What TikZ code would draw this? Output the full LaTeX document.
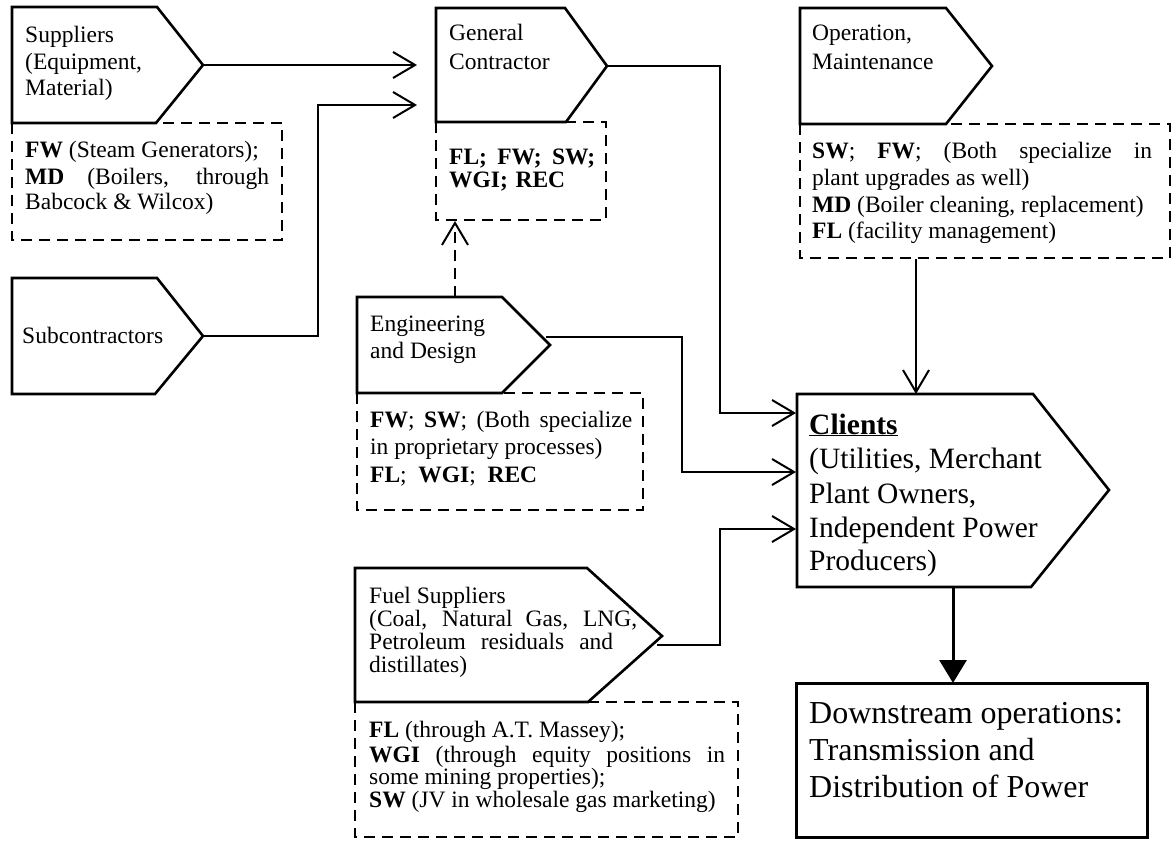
\documentclass[tikz,border=0pt]{standalone}
\usepackage{fontspec}
\setmainfont{Liberation Serif}
\usetikzlibrary{arrows.meta}

\tikzset{
  stage/.style={line width=2.6pt, line join=miter, fill=white},
  notebox/.style={line width=2pt, dash pattern=on 11pt off 7pt},
  conn/.style={line width=2pt, -{Straight Barb[length=22pt,width=26pt]}},
  heavy/.style={line width=3pt},
  txt/.style={anchor=base west, inner sep=0pt, font=\fontsize{23.5}{28}\selectfont},
  bigtxt/.style={txt, font=\fontsize{29.5}{34}\selectfont},
  hugetxt/.style={txt, font=\fontsize{32}{37}\selectfont},
}

\begin{document}
\begin{tikzpicture}[x=1pt,y=-1pt]
\useasboundingbox (0,0) rectangle (1172,843);

% ---- dashed note boxes (company lists) ----
\draw[notebox] (12,123) rectangle (282,240);
\draw[notebox] (436,122) rectangle (606,220);
\draw[notebox] (800,124) rectangle (1170,258);
\draw[notebox] (357,393) rectangle (643,510);
\draw[notebox] (355,702) rectangle (738,837);

% ---- value-chain stages (pentagon arrows) ----
\draw[stage] (12,7) -- (157,7) -- (203,65) -- (156,123) -- (12,123) -- cycle;
\draw[stage] (12,278) -- (157,278) -- (203,336) -- (155,394) -- (12,394) -- cycle;
\draw[stage] (436,8) -- (565,8) -- (607,66) -- (566,122) -- (436,122) -- cycle;
\draw[stage] (800,8) -- (946,8) -- (992,66) -- (946,124) -- (800,124) -- cycle;
\draw[stage] (357,297) -- (502,297) -- (550,345) -- (502,393) -- (357,393) -- cycle;
\draw[stage] (355,568) -- (587,568) -- (662,636) -- (588,702) -- (355,702) -- cycle;
\draw[stage] (797,394) -- (1033,394) -- (1109,490) -- (1031,587) -- (797,587) -- cycle;
\draw[heavy] (796,683) rectangle (1147,837);

% ---- connection points ----
\coordinate (sup-tip) at (203,65);
\coordinate (sub-tip) at (203,336);
\coordinate (gc-tip) at (607,66);
\coordinate (eng-tip) at (546,337);
\coordinate (eng-top) at (455,297);
\coordinate (gc-note) at (455,221);
\coordinate (fuel-tip) at (657,645);
\coordinate (om-note) at (916,259);
\coordinate (cl-top) at (916,394);
\coordinate (cl-bot) at (953,587);
\coordinate (ds-top) at (953,683);
\coordinate (gc-in1) at (417,65);
\coordinate (gc-in2) at (417,105);
\coordinate (sub-bend) at (318,105);
\coordinate (cl-in1) at (796,413);
\coordinate (cl-in2) at (796,472);
\coordinate (cl-in3) at (796,529);
\coordinate (gc-bend) at (720,413);
\coordinate (eng-bend) at (682,472);
\coordinate (fuel-bend) at (720,529);

% ---- connectors ----
\draw[conn] (sup-tip) -- (gc-in1);
\draw[conn] (sub-tip) -| (sub-bend) -- (gc-in2);
\draw[conn] (gc-tip) -| (gc-bend) -- (cl-in1);
\draw[conn] (eng-tip) -| (eng-bend) -- (cl-in2);
\draw[conn] (fuel-tip) -| (fuel-bend) -- (cl-in3);
\draw[conn, dash pattern=on 11pt off 7pt] (eng-top) -- (gc-note);
\draw[conn] (om-note) -- (cl-top);
\draw[heavy, -{Triangle[length=23pt,width=27pt]}] (cl-bot) -- (ds-top);

% ---- Suppliers ----
\node[txt] (sup1) at (25,43) {Suppliers};
\node[txt] (sup2) at (25,70) {(Equipment,};
\node[txt] (sup3) at (25,95) {Material)};
\node[txt] (supn1) at (25,157) {\textbf{FW} (Steam Generators);};
\node[txt] (supn2) at (25,184) {\makebox[244pt][s]{\textbf{MD} (Boilers, through}};
\node[txt] (supn3) at (25,209) {Babcock \& Wilcox)};

% ---- Subcontractors ----
\node[txt] (sub1) at (22,343) {Subcontractors};

% ---- General Contractor ----
\node[txt] (gc1) at (449,41) {General};
\node[txt] (gc2) at (449,70) {Contractor};
\node[txt] (gcn1) at (449,164) {\makebox[146pt][s]{\textbf{FL; FW; SW;}}};
\node[txt] (gcn2) at (449,187) {\makebox[116pt][s]{\textbf{WGI; REC}}};

% ---- Operation, Maintenance ----
\node[txt] (om1) at (812,41) {Operation,};
\node[txt] (om2) at (812,70) {Maintenance};
\node[txt] (omn1) at (812,158) {\makebox[340pt][s]{\textbf{SW}; \textbf{FW}; (Both specialize in}};
\node[txt] (omn2) at (812,185) {plant upgrades as well)};
\node[txt] (omn3) at (812,212) {\textbf{MD} (Boiler cleaning, replacement)};
\node[txt] (omn4) at (812,238) {\textbf{FL} (facility management)};

% ---- Engineering and Design ----
\node[txt] (eng1) at (370,331) {Engineering};
\node[txt] (eng2) at (370,358) {and Design};
\node[txt] (engn1) at (370,427) {\makebox[262pt][s]{\textbf{FW}; \textbf{SW}; (Both specialize}};
\node[txt] (engn2) at (370,454) {in proprietary processes)};
\node[txt] (engn3) at (370,482) {\makebox[167pt][s]{\textbf{FL}; \textbf{WGI}; \textbf{REC}}};

% ---- Fuel Suppliers ----
\node[txt] (fuel1) at (369,603) {Fuel Suppliers};
\node[txt] (fuel2) at (369,626) {\makebox[268pt][s]{(Coal, Natural Gas, LNG,}};
\node[txt] (fuel3) at (369,649) {\makebox[244pt][s]{Petroleum residuals and}};
\node[txt] (fuel4) at (369,672) {distillates)};
\node[txt] (fueln1) at (369,737) {\textbf{FL} (through A.T. Massey);};
\node[txt] (fueln2) at (369,762) {\makebox[356pt][s]{\textbf{WGI} (through equity positions in}};
\node[txt] (fueln3) at (369,784) {some mining properties);};
\node[txt] (fueln4) at (369,807) {\textbf{SW} (JV in wholesale gas marketing)};

% ---- Clients ----
\node[bigtxt] (cl1) at (809,434) {\textbf{\underline{Clients}}};
\node[bigtxt] (cl2) at (809,468) {(Utilities, Merchant};
\node[bigtxt] (cl3) at (809,503) {Plant Owners,};
\node[bigtxt] (cl4) at (809,537) {Independent Power};
\node[bigtxt] (cl5) at (809,570) {Producers)};

% ---- Downstream ----
\node[hugetxt] (ds1) at (809,723) {Downstream operations:};
\node[hugetxt] (ds2) at (809,760) {Transmission and};
\node[hugetxt] (ds3) at (809,797) {Distribution of Power};
\end{tikzpicture}
\end{document}
